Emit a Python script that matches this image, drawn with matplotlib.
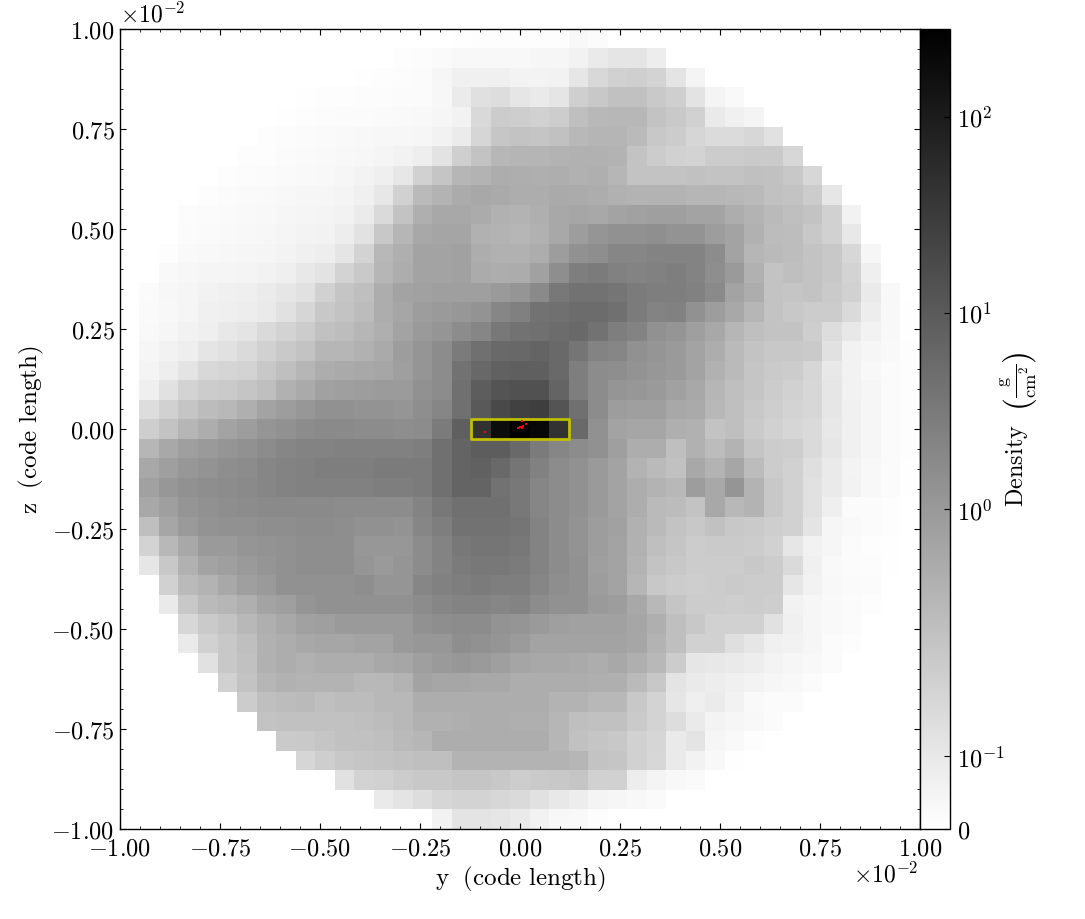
import numpy as np
import matplotlib
matplotlib.use("Agg")
import matplotlib.pyplot as plt
from matplotlib.colors import SymLogNorm
from matplotlib.patches import Rectangle
from matplotlib.ticker import FixedLocator, FixedFormatter, MultipleLocator, NullLocator

plt.rcParams['mathtext.fontset'] = 'cm'
plt.rcParams['font.family'] = ['cmr10', 'DejaVu Serif']
plt.rcParams['axes.unicode_minus'] = False
plt.rcParams['axes.formatter.use_mathtext'] = True

# Grey shade (255 = white, 0 = black): (first filled column, shades)
shade_rows = [
 (17,[253,252,252,252,252,252,247,250]),
 (14,[252,251,249,247,247,247,247,245,245,240,232,227,227,235]),
 (12,[253,252,251,250,245,238,238,238,242,242,240,228,213,205,203,208,225,243]),
 (9,[253,252,252,251,251,250,250,246,233,221,218,228,232,226,203,195,188,188,196,203,224,243,248]),
 (8,[253,252,251,250,250,249,248,247,245,240,214,200,202,205,201,185,178,176,176,190,196,205,232,238,243]),
 (7,[252,251,250,249,248,247,246,246,245,241,233,210,193,191,192,187,178,174,174,180,195,200,210,216,216,212,222]),
 (6,[252,252,250,249,248,247,246,244,241,236,224,203,190,176,174,174,172,170,170,173,190,200,205,207,200,200,198,198,212]),
 (5,[252,251,250,249,248,247,245,242,237,229,205,192,175,172,165,167,168,166,170,168,175,190,190,190,188,190,190,186,187,195,212]),
 (4,[252,250,249,248,247,245,245,243,238,229,205,180,172,163,160,162,165,165,162,163,165,170,172,172,172,175,175,178,180,187,190,200,228]),
 (3,[251,250,249,248,247,245,244,243,240,233,215,190,168,160,160,163,170,172,168,160,158,160,155,152,150,150,155,155,165,172,180,185,190,205,240]),
 (3,[250,249,248,247,246,244,242,240,235,223,195,175,160,157,157,170,172,175,170,160,148,140,135,135,133,137,138,148,155,170,182,183,195,205,230]),
 (2,[252,248,247,246,245,244,242,238,236,226,208,177,168,155,155,152,165,170,170,165,148,135,132,125,125,122,122,122,130,155,175,180,183,190,195,212,245]),
 (2,[248,246,244,244,243,241,237,230,224,208,196,175,165,155,155,152,163,165,164,152,132,118,115,120,122,120,118,122,132,145,170,190,185,190,195,208,237]),
 (1,[250,246,244,241,238,237,233,228,222,205,192,185,165,155,152,150,150,150,145,140,128,112,108,108,110,115,118,118,120,128,155,165,190,192,190,198,205,232,247]),
 (1,[249,247,244,238,237,235,232,222,210,195,190,182,165,158,148,145,142,138,125,119,108,105,102,102,105,115,122,120,135,148,160,175,190,195,200,200,215,235,247,253]),
 (1,[248,245,240,237,230,225,215,207,200,187,183,175,168,155,145,140,130,125,112,108,105,102,100,108,118,122,135,140,150,160,175,185,190,190,202,218,230,240,247,253]),
 (1,[245,240,236,226,222,215,205,196,190,175,175,170,162,148,140,130,115,105,100,98,95,100,110,122,125,135,140,145,155,165,180,190,195,195,198,222,240,245,248,252]),
 (1,[243,236,225,213,209,207,195,185,175,165,162,160,158,150,140,130,108,98,92,90,90,100,118,130,132,138,142,145,155,170,180,192,198,200,210,230,240,247,250,252]),
 (1,[237,222,208,200,198,192,185,170,162,152,150,148,146,146,135,130,105,88,80,77,78,95,118,130,140,142,145,152,160,175,185,192,200,205,212,228,240,245,250,252]),
 (1,[218,205,192,182,178,168,155,148,142,135,135,138,138,140,132,125,105,85,70,63,60,80,105,130,148,150,150,160,162,178,185,195,202,208,212,228,238,245,250,252]),
 (1,[202,190,175,165,155,148,140,135,130,128,128,130,130,132,130,115,90,50,12,0,8,50,100,135,155,158,158,168,170,190,185,198,205,210,215,230,238,245,250,252]),
 (1,[175,160,150,145,140,135,130,125,122,122,120,120,120,120,118,105,95,88,88,100,115,125,130,135,150,165,165,185,170,182,172,192,200,202,215,228,238,245,250,252]),
 (1,[160,150,142,137,132,130,125,122,120,118,118,118,115,115,115,105,95,92,100,110,120,130,135,145,155,172,180,188,160,172,158,182,200,205,220,232,242,247,250,253]),
 (1,[152,142,135,132,130,128,125,122,120,120,120,120,118,118,115,105,95,95,108,112,125,130,135,145,155,165,172,178,148,160,140,172,195,205,222,232,240,247,250,253]),
 (1,[160,150,140,135,132,130,128,128,128,128,130,130,130,130,122,112,105,105,105,112,125,130,135,145,155,165,180,182,190,160,178,172,195,205,222,237,250,250,252,254]),
 (1,[185,158,145,138,135,135,132,132,130,130,132,135,135,138,125,118,108,108,108,110,122,130,138,148,152,170,180,190,195,188,195,198,202,205,225,245,248,250,252,254]),
 (1,[208,178,160,145,145,140,138,135,132,132,132,142,142,142,130,122,112,110,110,112,122,130,138,148,155,170,185,192,200,198,198,200,205,228,240,245,250,252,253]),
 (1,[228,195,170,155,150,145,140,135,132,132,132,140,145,140,130,122,115,112,112,115,122,130,135,150,155,172,190,195,200,200,200,195,200,215,238,248,250,251,253]),
 (2,[205,180,172,160,150,145,135,135,135,135,132,140,140,125,120,118,115,118,118,125,132,135,148,155,175,195,200,202,200,198,200,200,228,240,247,249,250,254]),
 (2,[232,195,180,175,168,155,150,140,135,135,135,135,135,130,125,122,122,125,123,130,135,135,145,148,160,178,192,200,200,202,200,202,240,245,248,250,252]),
 (3,[212,198,190,178,168,160,152,150,145,145,145,145,135,132,130,130,138,140,145,150,152,152,152,158,168,185,195,205,205,205,222,238,245,248,250,254]),
 (3,[232,205,195,185,170,165,160,158,158,155,155,145,142,142,132,135,140,146,155,155,155,155,155,158,172,185,205,205,220,228,238,240,245,250,252]),
 (4,[222,195,188,170,165,170,165,165,165,160,158,150,145,142,145,150,157,160,160,162,165,160,168,178,200,228,230,232,235,242,245,247,250]),
 (5,[205,190,175,170,172,172,172,178,178,172,155,158,158,160,160,165,165,165,165,168,168,180,195,225,232,235,238,242,245,247,250]),
 (6,[200,185,182,180,185,182,182,178,178,165,165,165,165,165,165,165,172,172,178,178,195,208,228,237,233,240,248,250,250]),
 (7,[190,188,188,188,188,185,182,178,170,170,168,165,165,168,168,175,185,188,188,198,208,218,232,242,245,247,250]),
 (8,[198,196,192,188,188,185,180,175,165,165,165,165,165,165,175,188,192,195,205,210,232,225,245,248,252]),
 (9,[210,202,195,192,190,188,185,185,172,172,172,172,172,172,175,190,192,205,212,232,240,247,253]),
 (11,[222,207,205,200,195,195,192,192,195,201,198,195,192,205,205,235,243,247,249]),
 (13,[232,225,218,210,208,208,212,215,222,230,235,243,245,247,249]),
 (16,[240,225,225,228,232,240,247,248,252]),
]

# Calibration of the shades as read by eye against the colour bar's own greys
read_shade = [0, 60, 100, 130, 160, 200, 255]
true_shade = [0, 62, 106, 140, 168, 204, 255]

tick_values = [-1.00, -0.75, -0.50, -0.25, 0.00, 0.25, 0.50, 0.75, 1.00]
tick_labels = ['$-1.00$', '$-0.75$', '$-0.50$', '$-0.25$', '$0.00$', '$0.25$', '$0.50$', '$0.75$', '$1.00$']
cbar_values = [0, 0.1, 1, 10, 100]
cbar_labels = ['$0$', '$10^{-1}$', '$10^{0}$', '$10^{1}$', '$10^{2}$']
particle_y = [-0.0875, -0.004, -0.001, 0.002, 0.005, 0.006, 0.008, 0.016]
particle_z = [-0.007, 0.003, 0.004, 0.004, 0.003, 0.020, 0.008, 0.012]
box_y = [-0.1235, 0.1235]
box_z = [-0.025, 0.025]
extent_limits = [-1.0, 1.0]
density_min, density_max, lin_thresh = 0.0, 280.0, 0.3

W, H = 1085, 920
fig = plt.figure(figsize=(W / 100, H / 100), dpi=100, facecolor='white')
ax = fig.add_axes([120 / W, (H - 830) / H, 800 / W, 800 / H])
cax = fig.add_axes([920 / W, (H - 830) / H, 30 / W, 800 / H])

norm = SymLogNorm(linthresh=lin_thresh, linscale=1.0, vmin=density_min, vmax=density_max, base=10)

shades = np.full((len(shade_rows), len(shade_rows)), 255.0)
for r, (first, vals) in enumerate(shade_rows):
    shades[r, first:first + len(vals)] = vals
shades = np.interp(shades, read_shade, true_shade)
density = np.clip(np.asarray(norm.inverse(1 - shades / 255.0)), 0, None)

lo, hi = extent_limits
im = ax.imshow(density, cmap='gray_r', norm=norm, origin='upper', extent=[lo, hi, lo, hi],
               interpolation='nearest', aspect='equal')

ax.add_patch(Rectangle((box_y[0], box_z[0]), box_y[1] - box_y[0], box_z[1] - box_z[0], fill=False,
                       edgecolor='y', lw=2.0, joinstyle='round', zorder=3))
ax.scatter(particle_y, particle_z, s=2.2, c='red', marker='s', linewidths=0, zorder=4)

ax.set_xlim(lo, hi)
ax.set_ylim(lo, hi)
for axis in (ax.xaxis, ax.yaxis):
    axis.set_major_locator(FixedLocator(tick_values))
    axis.set_major_formatter(FixedFormatter(tick_labels))
    axis.set_minor_locator(MultipleLocator(0.05))
ax.tick_params(which='major', direction='in', top=True, right=True, length=4.0, width=0.8, labelsize=17.5, pad=4)
ax.tick_params(which='minor', direction='in', top=True, right=True, length=2.0, width=0.6)
ax.tick_params(axis='x', which='major', pad=6)
for s in ax.spines.values():
    s.set_linewidth(1.0)
ax.set_xlabel(r'$\rm{y\ \ (code\ length)}$', fontsize=18, labelpad=3)
ax.set_ylabel(r'$\rm{z\ \ (code\ length)}$', fontsize=18, labelpad=4)

cb = fig.colorbar(im, cax=cax)
cb.set_ticks(cbar_values, labels=cbar_labels)
cax.yaxis.set_minor_locator(NullLocator())
cax.tick_params(which='major', direction='in', length=4.0, width=0.8, labelsize=17.5, pad=5)
cb.outline.set_linewidth(1.0)

def px_text(x, y, s, size, **kw):
    fig.text(x / W, 1 - y / H, s, fontsize=size, ha='center', va='center', **kw)

px_text(1017, 466, r'$\rm{Density}$', 17.5, rotation=90)
px_text(1019, 381, r'$\frac{\rm{g}}{\rm{cm}^{2}}$', 19, rotation=90)
px_text(1020, 404, r'$($', 24, rotation=90)
px_text(1020, 358, r'$)$', 24, rotation=90)

fig.text(120 / W, 1 - 15 / H, r'$\times 10^{-2}$', fontsize=17, ha='left', va='center')
fig.text(918 / W, 1 - 875 / H, r'$\times 10^{-2}$', fontsize=17, ha='right', va='center')

fig.savefig('out.png', dpi=100, facecolor='white')
